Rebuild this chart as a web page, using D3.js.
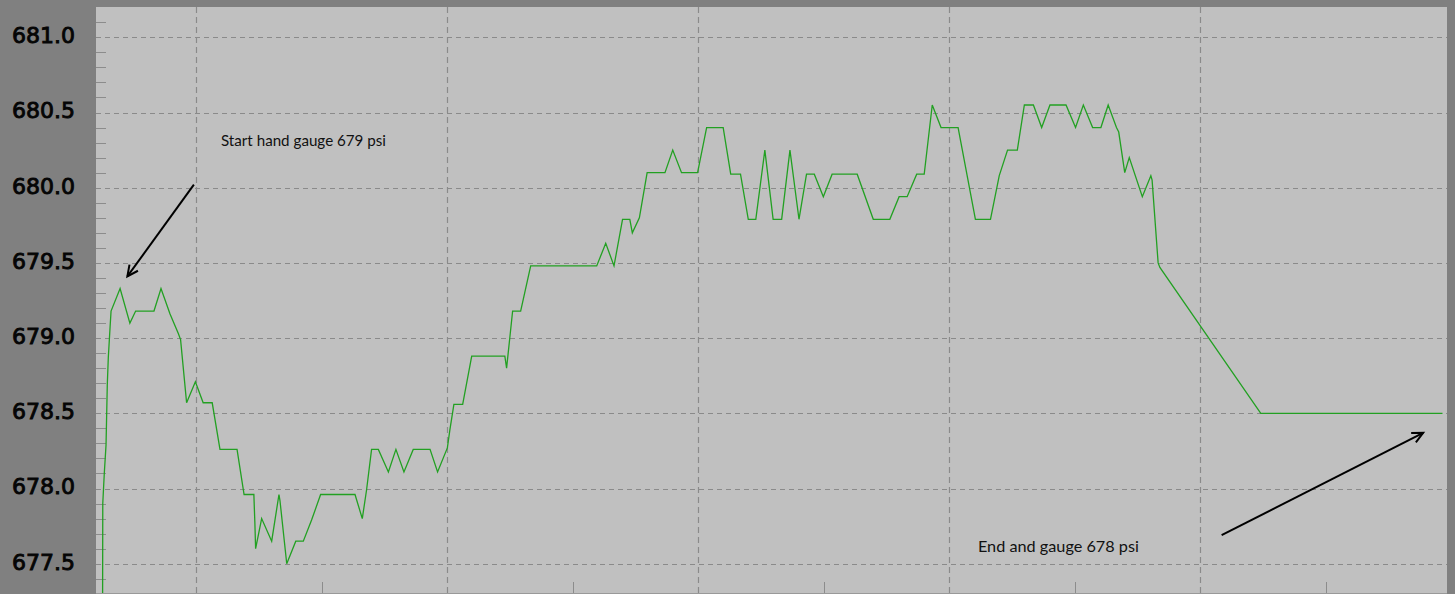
<!DOCTYPE html>
<html>
<head>
<meta charset="utf-8">
<script src="https://cdn.jsdelivr.net/npm/d3@7"></script>
<style>
  body { margin: 0; background: #808080; }
  svg { display: block; }
</style>
</head>
<body>
<div class="chart"></div>
<script>

// elapsed time (min) and pressure (psi)
let times = [6.26, 6.27, 6.33, 6.40, 6.45, 6.49, 6.56, 6.60, 6.96, 7.35, 7.58, 8.31, 8.59, 8.95, 9.28, 9.37, 9.61, 9.96,
    10.27, 10.63, 10.94, 11.62, 11.90, 12.29, 12.33, 12.36, 12.60, 13.00, 13.29, 13.33, 13.60, 13.96, 14.26, 14.59, 14.95,
    16.32, 16.61, 16.78, 16.98, 17.25, 17.65, 17.95, 18.27, 18.64, 19.31, 19.61, 20.00, 20.10, 20.26, 20.61, 20.97,
    22.29, 22.36, 22.60, 22.92, 23.32, 25.95, 26.31, 26.64, 26.98, 27.27, 27.37, 27.65, 27.96, 28.67, 28.98, 29.33, 29.97,
    30.33, 30.99, 31.29, 31.68, 31.99, 32.29, 32.65, 32.98, 33.32, 33.65, 34.01, 34.31, 34.62, 34.98, 35.33, 36.33,
    36.97, 37.63, 38.00, 38.32, 38.70, 39.00, 39.32, 39.67, 40.35, 41.04, 41.64, 41.99, 42.32, 42.71, 42.99, 43.35,
    43.68, 44.01, 44.65, 45.03, 45.34, 45.71, 46.04, 46.33, 46.66, 46.75, 46.99, 47.17, 47.69, 48.03, 48.08, 48.32,
    48.39, 52.41, 59.65];

let psi = [677.00, 677.90, 678.10, 678.29, 678.69, 678.87, 679.07, 679.18, 679.33, 679.10, 679.18, 679.18, 679.33, 679.16, 679.03, 678.99, 678.57, 678.71,
    678.57, 678.57, 678.26, 678.26, 677.96, 677.96, 677.77, 677.60, 677.80, 677.65, 677.96, 677.92, 677.50, 677.65, 677.65, 677.79, 677.96,
    677.96, 677.80, 677.99, 678.26, 678.26, 678.11, 678.26, 678.11, 678.26, 678.26, 678.11, 678.27, 678.39, 678.56, 678.56, 678.88,
    678.88, 678.80, 679.18, 679.18, 679.48, 679.48, 679.63, 679.48, 679.79, 679.79, 679.70, 679.80, 680.10, 680.10, 680.25, 680.10, 680.10,
    680.40, 680.40, 680.09, 680.09, 679.79, 679.79, 680.25, 679.79, 679.79, 680.25, 679.79, 680.09, 680.09, 679.94, 680.09, 680.09,
    679.79, 679.79, 679.94, 679.94, 680.09, 680.09, 680.55, 680.40, 680.40, 679.79, 679.79, 680.08, 680.25, 680.25, 680.55, 680.55,
    680.40, 680.55, 680.55, 680.40, 680.55, 680.40, 680.40, 680.55, 680.40, 680.37, 680.10, 680.20, 679.94, 680.08, 680.05, 679.50,
    679.47, 678.50, 678.50];

let yLabels = [677.5, 678.0, 678.5, 679.0, 679.5, 680.0, 680.5, 681.0];
let xGrid = [10, 20, 30, 40, 50];
let xMinor = [15, 25, 35, 45, 55];

let notes = [
    {text: "Start hand gauge 679 psi", t: 10.98, v: 680.28, len: 165},
    {text: "End and gauge 678 psi", t: 41.14, v: 677.58, len: 161}
];
let arrows = [
    {t0: 9.90, v0: 680.02, t1: 7.25, v1: 679.41},
    {t0: 50.85, v0: 677.69, t1: 58.88, v1: 678.37}
];

let data = times.map((t, i) => ({t: t, v: psi[i]}));

let width = 1455,
    height = 594,
    pLeft = 96, pRight = 1447, pTop = 7, pBottom = 593;

let x = d3.scaleLinear().domain([6, 59.83]).range([pLeft, pRight]);
let y = d3.scaleLinear().domain([677.5, 681]).range([563.7, 37.3]);

let svg = d3.select(".chart")
    .append("svg")
    .attr("width", width)
    .attr("height", height);

svg.append("rect")
    .attr("x", pLeft).attr("y", pTop)
    .attr("width", pRight - pLeft).attr("height", pBottom - pTop)
    .attr("fill", "#c0c0c0");

svg.append("clipPath").attr("id", "plot")
    .append("rect")
    .attr("x", pLeft).attr("y", pTop)
    .attr("width", pRight - pLeft).attr("height", pBottom - pTop);

// minor y ticks every 0.1
let minorY = d3.range(6773, 6812).map(d => d / 10).filter(d => Math.round(d * 10) % 5 != 0);
svg.append("g").selectAll("line")
    .data(minorY)
    .join("line")
    .attr("x1", pLeft).attr("x2", pLeft + 10)
    .attr("y1", d => Math.round(y(d)) + 0.5).attr("y2", d => Math.round(y(d)) + 0.5)
    .attr("stroke", "#8c8c8c")
    .attr("stroke-width", 1);

// minor x ticks
svg.append("g").selectAll("line")
    .data(xMinor)
    .join("line")
    .attr("x1", d => Math.round(x(d)) + 0.5).attr("x2", d => Math.round(x(d)) + 0.5)
    .attr("y1", pBottom - 11).attr("y2", pBottom)
    .attr("stroke", "#8c8c8c");

// grid
svg.append("g").selectAll("line")
    .data(yLabels)
    .join("line")
    .attr("x1", pLeft).attr("x2", pRight)
    .attr("y1", d => Math.round(y(d)) + 0.5).attr("y2", d => Math.round(y(d)) + 0.5)
    .attr("stroke", "#8a8a8a")
    .attr("stroke-width", 1.2)
    .attr("stroke-dasharray", "5,4");

svg.append("g").selectAll("line")
    .data(xGrid)
    .join("line")
    .attr("x1", d => Math.round(x(d)) + 0.5).attr("x2", d => Math.round(x(d)) + 0.5)
    .attr("y1", pTop).attr("y2", pBottom)
    .attr("stroke", "#8a8a8a")
    .attr("stroke-width", 1.2)
    .attr("stroke-dasharray", "6,4");

svg.append("line")
    .attr("x1", pLeft).attr("x2", pRight)
    .attr("y1", pBottom + 0.5).attr("y2", pBottom + 0.5)
    .attr("stroke", "#999");

// y labels
svg.append("g").selectAll("text")
    .data(yLabels)
    .join("text")
    .attr("x", 75)
    .attr("y", d => y(d) - 2)
    .attr("dy", "0.36em")
    .attr("text-anchor", "end")
    .attr("font-family", "DejaVu Sans")
    .attr("font-size", 22)
    .attr("fill", "#050505")
    .attr("stroke", "#050505")
    .attr("stroke-width", 0.9)
    .text(d => d.toFixed(1));

// trace
svg.append("path")
    .datum(data)
    .attr("clip-path", "url(#plot)")
    .attr("fill", "none")
    .attr("stroke", "#22a022")
    .attr("stroke-width", 1.3)
    .attr("d", d3.line().x(d => x(d.t)).y(d => y(d.v)));

// annotations
svg.append("g").selectAll("text")
    .data(notes)
    .join("text")
    .attr("x", d => x(d.t))
    .attr("y", d => y(d.v))
    .attr("font-family", "Lato")
    .attr("font-size", 16)
    .attr("fill", "#111")
    .attr("textLength", d => d.len)
    .attr("lengthAdjust", "spacingAndGlyphs")
    .text(d => d.text);

let arr = svg.append("g").selectAll("g")
    .data(arrows)
    .join("g");

arr.append("line")
    .attr("x1", d => x(d.t0)).attr("y1", d => y(d.v0))
    .attr("x2", d => x(d.t1)).attr("y2", d => y(d.v1))
    .attr("stroke", "#000")
    .attr("stroke-width", 2);

arr.append("path")
    .attr("fill", "none")
    .attr("stroke", "#000")
    .attr("stroke-width", 2)
    .attr("d", d => {
        let x1 = x(d.t1), y1 = y(d.v1);
        let a = Math.atan2(y1 - y(d.v0), x1 - x(d.t0));
        let L = 12, s = 0.45;
        return `M${x1 - L * Math.cos(a - s)},${y1 - L * Math.sin(a - s)}L${x1},${y1}L${x1 - L * Math.cos(a + s)},${y1 - L * Math.sin(a + s)}`;
    });

</script>
</body>
</html>
